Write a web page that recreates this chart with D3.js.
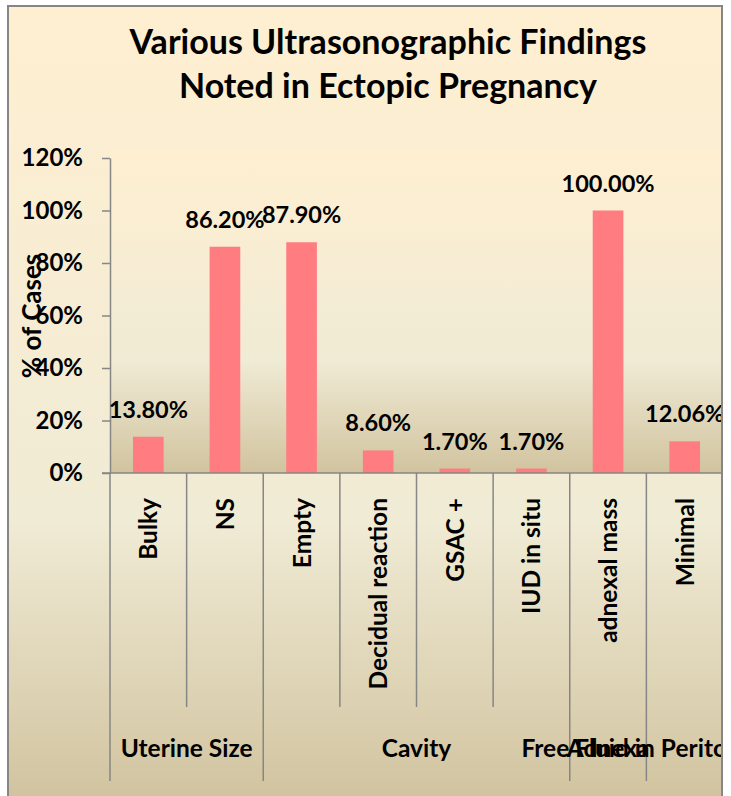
<!DOCTYPE html>
<html>
<head>
<meta charset="utf-8">
<script src="https://cdn.jsdelivr.net/npm/d3@7"></script>
<style>
  body { margin: 0; background: #fff; }
  text { font-family: Lato, "Open Sans", sans-serif; font-weight: bold; fill: #000; }
</style>
</head>
<body>
<div class="chart"></div>
<script>
var categories = ["Bulky", "NS", "Empty", "Decidual reaction", "GSAC +", "IUD in situ", "adnexal mass", "Minimal"];
var values = [13.8, 86.2, 87.9, 8.6, 1.7, 1.7, 100, 12.06];
var valueLabels = ["13.80%", "86.20%", "87.90%", "8.60%", "1.70%", "1.70%", "100.00%", "12.06%"];
var groupOf = ["Uterine Size", "Uterine Size", "Cavity", "Cavity", "Cavity", "Cavity", "Adnexa", "Free Fluid in Peritoneal Cavity"];
var yTicks = [0, 20, 40, 60, 80, 100, 120];
var titleLines = ["Various Ultrasonographic Findings", "Noted in Ectopic Pregnancy"];

var svgWidth = 731;
var svgHeight = 796;

var frame = { left: 8, top: 6, right: 722, bottom: 800 };
var plot = { left: 110, top: 150, right: 723, bottom: 473 };

var svg = d3.select(".chart")
  .append("svg")
  .attr("width", svgWidth)
  .attr("height", svgHeight);

// Parchment gradients (Excel preset)
var defs = svg.append("defs");
function parchment(id) {
  var g = defs.append("linearGradient")
    .attr("id", id)
    .attr("x1", 0).attr("y1", 0).attr("x2", 0).attr("y2", 1);
  g.append("stop").attr("offset", "0%").attr("stop-color", "#FFEFD1");
  g.append("stop").attr("offset", "65%").attr("stop-color", "#F0EBD5");
  g.append("stop").attr("offset", "100%").attr("stop-color", "#D1C39F");
}
parchment("chartFill");
parchment("plotFill");

defs.append("clipPath").attr("id", "frameClip")
  .append("rect")
  .attr("x", frame.left).attr("y", frame.top)
  .attr("width", frame.right - frame.left).attr("height", frame.bottom - frame.top);

svg.append("rect")
  .attr("x", frame.left).attr("y", frame.top)
  .attr("width", frame.right - frame.left).attr("height", frame.bottom - frame.top)
  .attr("fill", "url(#chartFill)");

var inner = svg.append("g").attr("clip-path", "url(#frameClip)");

// Scales
var xScale = d3.scaleBand()
  .domain(categories)
  .range([plot.left, plot.right])
  .padding(0);

var yScale = d3.scaleLinear()
  .domain([0, 120])
  .range([plot.bottom, 158]);

// Plot area background
inner.append("rect")
  .attr("x", plot.left).attr("y", plot.top)
  .attr("width", plot.right - plot.left).attr("height", plot.bottom - plot.top)
  .attr("fill", "url(#plotFill)");

// Title
inner.append("g").selectAll("text")
  .data(titleLines)
  .enter()
  .append("text")
  .attr("x", 388)
  .attr("y", (d, i) => 54 + i * 44)
  .attr("text-anchor", "middle")
  .style("font-size", "34px")
  .text(d => d);

// Bars
var barWidth = xScale.bandwidth() / 2.5;
inner.append("g").selectAll("rect")
  .data(values)
  .enter()
  .append("rect")
  .attr("x", (d, i) => xScale(categories[i]) + (xScale.bandwidth() - barWidth) / 2)
  .attr("y", d => yScale(d))
  .attr("width", barWidth)
  .attr("height", d => plot.bottom - yScale(d))
  .attr("fill", "#FF7C80");

// Y axis
var leftAxis = d3.axisLeft(yScale)
  .tickValues(yTicks)
  .tickFormat(d => d + "%")
  .tickSizeInner(8)
  .tickSizeOuter(0)
  .tickPadding(19);

var yAxisG = inner.append("g")
  .attr("transform", `translate(${plot.left}, 0)`)
  .call(leftAxis);
yAxisG.select(".domain").attr("stroke", "#868686").attr("stroke-width", 1.5);
yAxisG.selectAll(".tick line").attr("stroke", "#868686").attr("stroke-width", 1.5);
yAxisG.selectAll(".tick text")
  .style("font-size", "24px")
  .style("font-family", "Lato, sans-serif")
  .style("font-weight", "bold")
  .attr("fill", "#000");

// X axis line
inner.append("line")
  .attr("x1", plot.left - 8).attr("x2", plot.right)
  .attr("y1", plot.bottom).attr("y2", plot.bottom)
  .attr("stroke", "#868686").attr("stroke-width", 1.5);

// Category dividers: long at group boundaries, short between categories
var boundaries = d3.range(categories.length + 1).map(function(k) {
  var isGroup = k === 0 || k === categories.length || groupOf[k] !== groupOf[k - 1];
  var xPos = k < categories.length ? xScale(categories[k]) : plot.right;
  return { x: xPos, long: isGroup };
});

inner.append("g").selectAll("line")
  .data(boundaries)
  .enter()
  .append("line")
  .attr("x1", d => d.x).attr("x2", d => d.x)
  .attr("y1", plot.bottom)
  .attr("y2", d => d.long ? 781 : 707)
  .attr("stroke", "#868686")
  .attr("stroke-width", 1.5);

// Category labels (rotated)
inner.append("g").selectAll("text")
  .data(categories)
  .enter()
  .append("text")
  .attr("transform", d => `translate(${xScale(d) + xScale.bandwidth() / 2 + 9}, 498) rotate(-90)`)
  .attr("text-anchor", "end")
  .style("font-size", "24.5px")
  .text(d => d);

// Group labels
var groups = [];
categories.forEach(function(c, i) {
  var last = groups[groups.length - 1];
  if (last && last.name === groupOf[i]) {
    last.end = xScale(c) + xScale.bandwidth();
  } else {
    groups.push({ name: groupOf[i], start: xScale(c), end: xScale(c) + xScale.bandwidth() });
  }
});

inner.append("g").selectAll("text")
  .data(groups)
  .enter()
  .append("text")
  .attr("x", d => (d.start + d.end) / 2)
  .attr("y", 757)
  .attr("text-anchor", "middle")
  .style("font-size", "24.5px")
  .text(d => d.name);

// Data labels
inner.append("g").selectAll("text")
  .data(values)
  .enter()
  .append("text")
  .attr("x", (d, i) => xScale(categories[i]) + xScale.bandwidth() / 2)
  .attr("y", d => yScale(d) - 19)
  .attr("text-anchor", "middle")
  .style("font-size", "23.5px")
  .text((d, i) => valueLabels[i]);

// Y axis title
inner.append("text")
  .attr("transform", "translate(41, 316) rotate(-90)")
  .attr("text-anchor", "middle")
  .style("font-size", "26px")
  .text("% of Cases");

// Chart border
svg.append("rect")
  .attr("x", frame.left).attr("y", frame.top)
  .attr("width", frame.right - frame.left).attr("height", frame.bottom - frame.top)
  .attr("fill", "none")
  .attr("stroke", "#868686")
  .attr("stroke-width", 2);
</script>
</body>
</html>
